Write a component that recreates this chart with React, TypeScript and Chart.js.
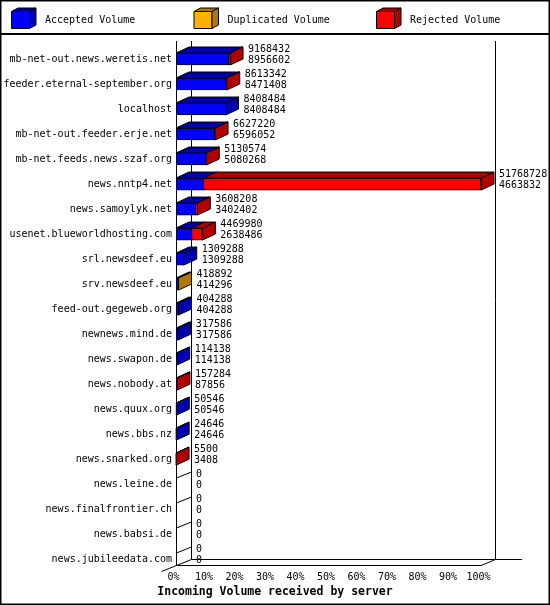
import { useEffect, useRef } from "react";
import { Chart, registerables } from "chart.js";

Chart.register(...registerables);

// innfeed volume per server, in bytes
const servers = [
  "mb-net-out.news.weretis.net",
  "feeder.eternal-september.org",
  "localhost",
  "mb-net-out.feeder.erje.net",
  "mb-net.feeds.news.szaf.org",
  "news.nntp4.net",
  "news.samoylyk.net",
  "usenet.blueworldhosting.com",
  "srl.newsdeef.eu",
  "srv.newsdeef.eu",
  "feed-out.gegeweb.org",
  "newnews.mind.de",
  "news.swapon.de",
  "news.nobody.at",
  "news.quux.org",
  "news.bbs.nz",
  "news.snarked.org",
  "news.leine.de",
  "news.finalfrontier.ch",
  "news.babsi.de",
  "news.jubileedata.com",
];

const accepted = [
  8956602, 8471408, 8408484, 6596052, 5080268, 4663832, 3402402, 2638486, 1309288, 414296, 404288,
  317586, 114138, 87856, 50546, 24646, 3408, 0, 0, 0, 0,
];

const duplicated = [0, 0, 0, 0, 0, 0, 0, 0, 0, 4596, 0, 0, 0, 0, 0, 0, 0, 0, 0, 0, 0];

const rejected = [
  211830, 141934, 0, 31168, 50306, 47104896, 205806, 1831494, 0, 0, 0, 0, 0, 69428, 0, 0, 2092, 0, 0,
  0, 0,
];

const seriesNames = ["Accepted Volume", "Duplicated Volume", "Rejected Volume"];
const frontColors = ["#0000ff", "#ffb000", "#ff0000"];
const sideColors = ["#0000b0", "#b07800", "#b00000"];
const axisTitle = "Incoming Volume received by server";

const MONO = '"DejaVu Sans Mono", "Liberation Mono", monospace';
const DX = 13; // bar depth
const DY = 6;
const WDX = 15; // wall depth
const WDY = 6;

const totals = servers.map((_, i) => accepted[i] + duplicated[i] + rejected[i]);
const maxTotal = Math.max(...totals);
const pct = (arr: number[]) => arr.map((v) => (v / maxTotal) * 100);

const poly = (ctx: CanvasRenderingContext2D, pts: number[][], fill: string) => {
  ctx.beginPath();
  ctx.moveTo(pts[0][0], pts[0][1]);
  for (let k = 1; k < pts.length; k++) ctx.lineTo(pts[k][0], pts[k][1]);
  ctx.closePath();
  ctx.fillStyle = fill;
  ctx.fill();
  ctx.stroke();
};

const line = (ctx: CanvasRenderingContext2D, x1: number, y1: number, x2: number, y2: number) => {
  ctx.beginPath();
  ctx.moveTo(x1, y1);
  ctx.lineTo(x2, y2);
  ctx.stroke();
};

const cube3d = {
  id: "cube3d",
  beforeDatasetsDraw(chart: any) {
    const { ctx, chartArea: a } = chart;
    const last = chart.getDatasetMeta(0).data[servers.length - 1];
    const floor = Math.round(last.y + 6) + 0.5;
    const left = Math.round(a.left) + 0.5;
    const right = Math.round(a.right);
    const backL = left + WDX;
    const backR = Math.round(a.right + WDX) - 0.5;
    const top = 41;
    ctx.save();
    ctx.strokeStyle = "#000";
    ctx.lineWidth = 1;
    line(ctx, left, top, left, floor);
    line(ctx, backL, top, backL, floor - WDY);
    line(ctx, backR, top, backR, floor - WDY);
    line(ctx, backL, floor - WDY, 522, floor - WDY);
    line(ctx, left, floor, right, floor);
    line(ctx, right, floor, backR, floor - WDY);
    line(ctx, left - WDX, floor + WDY, backL, floor - WDY);
    ctx.restore();
  },
  afterDatasetsDraw(chart: any) {
    const { ctx } = chart;
    ctx.save();
    ctx.strokeStyle = "#000";
    ctx.lineWidth = 1;
    ctx.lineJoin = "miter";
    servers.forEach((_, i) => {
      let lastEnd = chart.scales.x.getPixelForValue(0);
      let lastDs = -1;
      let cy = 0;
      let t = 0;
      let b = 0;
      chart.data.datasets.forEach((ds: any, d: number) => {
        const el = chart.getDatasetMeta(d).data[i];
        const p = el.getProps(["x", "y", "base", "height"], true);
        cy = p.y;
        t = p.y - p.height / 2;
        b = p.y + p.height / 2;
        if (ds.data[i] <= 0) return;
        const x0 = Math.min(p.base, p.x);
        const x1 = Math.max(p.base, p.x);
        poly(ctx, [[x0, t], [x0 + DX, t - DY], [x1 + DX, t - DY], [x1, t]], sideColors[d]);
        lastEnd = x1;
        lastDs = d;
      });
      if (lastDs >= 0) {
        poly(ctx, [[lastEnd, t], [lastEnd + DX, t - DY], [lastEnd + DX, b - DY], [lastEnd, b]], sideColors[lastDs]);
      } else {
        line(ctx, lastEnd, t, lastEnd + WDX, t - DY);
      }
      ctx.fillStyle = "#000";
      ctx.font = `10px ${MONO}`;
      ctx.textAlign = "left";
      ctx.textBaseline = "middle";
      const tx = lastEnd + (lastDs >= 0 ? DX : WDX) + 5;
      ctx.fillText(String(totals[i]), tx, cy - 9.5);
      ctx.fillText(String(accepted[i]), tx, cy + 1.5);
    });
    ctx.restore();
  },
  afterDraw(chart: any) {
    const { ctx, width, height } = chart;
    ctx.save();
    ctx.strokeStyle = "#000";
    ctx.lineWidth = 1;
    chart.data.datasets.forEach((ds: any, d: number) => {
      const bx = 11.5 + d * 182.5;
      const by = 11.5;
      const w = 18;
      const h = 17;
      poly(ctx, [[bx, by], [bx + w, by], [bx + w, by + h], [bx, by + h]], frontColors[d]);
      poly(ctx, [[bx, by], [bx + 6.5, by - 3.5], [bx + w + 6.5, by - 3.5], [bx + w, by]], sideColors[d]);
      poly(ctx, [[bx + w, by], [bx + w + 6.5, by - 3.5], [bx + w + 6.5, by + h - 3.5], [bx + w, by + h]], sideColors[d]);
      ctx.fillStyle = "#000";
      ctx.font = `10px ${MONO}`;
      ctx.textAlign = "left";
      ctx.textBaseline = "middle";
      ctx.fillText(ds.label, bx + 33.5, 20);
    });
    ctx.fillStyle = "#000";
    ctx.fillRect(0, 33, width, 2);
    ctx.lineWidth = 2;
    ctx.strokeRect(0.5, 0.5, width - 1, height - 1);
    ctx.restore();
  },
};

export default function App() {
  const canvasRef = useRef<HTMLCanvasElement>(null);

  useEffect(() => {
    if (!canvasRef.current) return;
    const series = [accepted, duplicated, rejected];
    const chart = new Chart(canvasRef.current, {
      type: "bar",
      data: {
        labels: servers,
        datasets: series.map((arr, d) => ({
          label: seriesNames[d],
          data: pct(arr),
          xAxisID: "x",
          yAxisID: "y",
          backgroundColor: frontColors[d],
          borderColor: "#000",
          borderWidth: 1,
          borderSkipped: false,
          barThickness: 12,
        })),
      },
      plugins: [cube3d],
      options: {
        indexAxis: "y",
        responsive: false,
        animation: false,
        devicePixelRatio: 1,
        events: [],
        layout: { padding: { top: 46.5, right: 0, left: 0, bottom: 0 } },
        plugins: {
          legend: { display: false },
          tooltip: { enabled: false },
          title: {
            display: true,
            position: "bottom",
            text: axisTitle,
            color: "#000",
            font: { family: MONO, size: 11.5, weight: "bold" },
            padding: { top: 0, bottom: 6 },
          },
        },
        scales: {
          x: {
            stacked: true,
            min: 0,
            max: 100,
            grid: { display: false, drawTicks: false },
            border: { display: false },
            ticks: {
              stepSize: 10,
              autoSkip: false,
              maxRotation: 0,
              padding: 0,
              labelOffset: -2.5,
              color: "#000",
              font: { family: MONO, size: 10 },
              callback: (v: any) => v + "%",
            },
            afterFit: (s: any) => {
              s.height = 13.5;
            },
          },
          y: {
            stacked: true,
            grid: { display: false, drawTicks: false },
            border: { display: false },
            ticks: {
              autoSkip: false,
              padding: 4,
              color: "#000",
              font: { family: MONO, size: 10 },
            },
            afterFit: (s: any) => {
              s.width = 176;
            },
          },
          // empty right-hand strip that holds the value labels and back wall
          yRight: {
            type: "linear",
            axis: "y",
            position: "right",
            grid: { display: false, drawTicks: false },
            border: { display: false },
            ticks: { display: false },
            afterFit: (s: any) => {
              s.width = 69;
            },
          },
        },
      },
    });
    return () => chart.destroy();
  }, []);

  return (
    <div style={{ position: "fixed", left: 0, top: 0, width: 550, height: 605, background: "#fff" }}>
      <canvas ref={canvasRef} width={550} height={605} style={{ width: 550, height: 605 }} />
    </div>
  );
}
